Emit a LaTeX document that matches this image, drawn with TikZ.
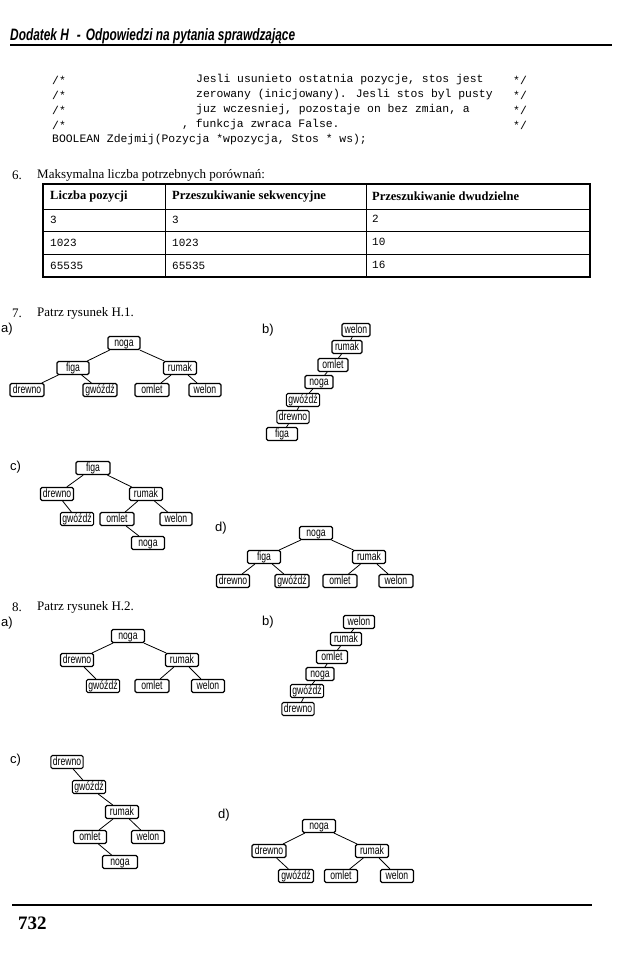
\documentclass[tikz,border=0pt]{standalone}
\usepackage{fontspec}
\setmainfont{Liberation Serif}
\newfontfamily\hdrfont[FakeStretch=0.72]{Liberation Sans}
\newfontfamily\treefont[FakeStretch=0.72]{Liberation Sans}
\newfontfamily\codefont{Liberation Mono}
\newfontfamily\labfont{Liberation Sans}
\tikzset{
 tn/.style={draw=black, line width=1.1pt, rounded corners=1.5pt, inner xsep=2pt, inner ysep=0pt,
   minimum height=13pt, font=\treefont\fontsize{12}{12}\selectfont, text height=8.4pt, text depth=2.4pt},
 ed/.style={line width=0.8pt},
 lab/.style={anchor=west, font=\labfont\fontsize{13}{13}\selectfont, inner sep=0},
 body/.style={anchor=west, font=\fontsize{13}{15}\selectfont, inner sep=0},
 code/.style={anchor=west, font=\codefont\fontsize{11.4}{12}\selectfont, inner sep=0},
 thh/.style={anchor=west, font=\bfseries\fontsize{12.5}{14}\selectfont, inner sep=0},
 tc/.style={anchor=west, font=\codefont\fontsize{11}{12}\selectfont, inner sep=0},
}
\begin{document}
\begin{tikzpicture}[x=1pt,y=-1pt]
\useasboundingbox (0,0) rectangle (639,978);
\fill[white] (0,0) rectangle (639,978);
% header
\node[anchor=west, inner sep=0, font=\hdrfont\bfseries\itshape\fontsize{16.5}{16.5}\selectfont] (hdr) at (10,36) {Dodatek H\hspace{8pt}-\hspace{5pt}Odpowiedzi na pytania sprawdzające};
\coordinate (hrl) at (10,45); \coordinate (hrr) at (612,45);
\draw[line width=1.6pt] (hrl) -- (hrr);
% code
\node[code] (c1a) at (52,80) {/*};
\node[code] (c1b) at (196,80) {Jesli usunieto ostatnia pozycje, stos jest};
\node[code] (c1c) at (513,80) {*/};
\node[code] (c2a) at (52,95) {/*};
\node[code] (c2b) at (196,95) {zerowany (inicjowany). Jesli stos byl pusty};
\node[code] (c2c) at (513,95) {*/};
\node[code] (c3a) at (52,110) {/*};
\node[code] (c3b) at (196,110) {juz wczesniej, pozostaje on bez zmian, a};
\node[code] (c3c) at (513,110) {*/};
\node[code] (c4a) at (52,125) {/*};
\node[code] (c4b) at (182,125) {, funkcja zwraca False.};
\node[code] (c4c) at (513,125) {*/};
\node[code] (c5) at (52,140) {BOOLEAN Zdejmij(Pozycja *wpozycja, Stos * ws);};
% item 6
\node[body] (n6) at (12,175) {6.};
\node[body] (t6) at (37,175) {Maksymalna liczba potrzebnych porównań:};
% table
\draw[line width=1.3pt] (43,184) rectangle (590,277);
\draw[line width=1pt] (43,209) -- (590,209) (43,231) -- (590,231) (43,254) -- (590,254);
\draw[line width=1pt] (165,184) -- (165,277) (366,184) -- (366,277);
\node[thh] (h1) at (50,197) {Liczba pozycji};
\node[thh] (h2) at (172,197) {Przeszukiwanie sekwencyjne};
\node[thh] (h3) at (372,196) {Przeszukiwanie dwudzielne};
\node[tc] (r11) at (50,220) {3};
\node[tc] (r12) at (172,220) {3};
\node[tc] (r13) at (372,219) {2};
\node[tc] (r21) at (50,243) {1023};
\node[tc] (r22) at (172,243) {1023};
\node[tc] (r23) at (372,242) {10};
\node[tc] (r31) at (50,266) {65535};
\node[tc] (r32) at (172,266) {65535};
\node[tc] (r33) at (372,265) {16};
% item 7
\node[body] (n7) at (12,313) {7.};
\node[body] (t7) at (37,313) {Patrz rysunek H.1.};
\node[lab] (l7a) at (1,329) {a)};
\node[lab] (l7b) at (262,330) {b)};
\node[lab] (l7c) at (10,467) {c)};
\node[lab] (l7d) at (215,528) {d)};
% H.1 a
\node[tn,minimum width=32] (a1noga) at (124,343) {noga};
\node[tn,minimum width=32] (a1figa) at (73,368) {figa};
\node[tn,minimum width=33] (a1rumak) at (180,368) {rumak};
\node[tn,minimum width=34] (a1drewno) at (27,390) {drewno};
\node[tn,minimum width=34] (a1gwozdz) at (100,390) {gwóźdź};
\node[tn,minimum width=34] (a1omlet) at (152,390) {omlet};
\node[tn,minimum width=32] (a1welon) at (205,390) {welon};
\draw[ed] (a1noga) -- (a1figa); \draw[ed] (a1noga) -- (a1rumak);
\draw[ed] (a1figa) -- (a1drewno); \draw[ed] (a1figa) -- (a1gwozdz);
\draw[ed] (a1rumak) -- (a1omlet); \draw[ed] (a1rumak) -- (a1welon);
% H.1 b
\node[tn,minimum width=28] (b1welon) at (356,330) {welon};
\node[tn,minimum width=30] (b1rumak) at (347,347) {rumak};
\node[tn,minimum width=30] (b1omlet) at (333,365) {omlet};
\node[tn,minimum width=28] (b1noga) at (319,382) {noga};
\node[tn,minimum width=30] (b1gwozdz) at (303,400) {gwóźdź};
\node[tn,minimum width=31] (b1drewno) at (293,417) {drewno};
\node[tn,minimum width=31] (b1figa) at (282,434) {figa};
\draw[ed] (b1welon) -- (b1rumak); \draw[ed] (b1rumak) -- (b1omlet);
\draw[ed] (b1omlet) -- (b1noga); \draw[ed] (b1noga) -- (b1gwozdz);
\draw[ed] (b1gwozdz) -- (b1drewno); \draw[ed] (b1drewno) -- (b1figa);
% H.1 c
\node[tn,minimum width=34] (c1figa) at (93,468) {figa};
\node[tn,minimum width=33] (c1drewno) at (57,494) {drewno};
\node[tn,minimum width=33] (c1rumak) at (146,494) {rumak};
\node[tn,minimum width=33] (c1gwozdz) at (77,519) {gwóźdź};
\node[tn,minimum width=34] (c1omlet) at (117,519) {omlet};
\node[tn,minimum width=32] (c1welon) at (176,519) {welon};
\node[tn,minimum width=33] (c1noga) at (148,543) {noga};
\draw[ed] (c1figa) -- (c1drewno); \draw[ed] (c1figa) -- (c1rumak);
\draw[ed] (c1drewno) -- (c1gwozdz);
\draw[ed] (c1rumak) -- (c1omlet); \draw[ed] (c1rumak) -- (c1welon);
\draw[ed] (c1omlet) -- (c1noga);
% H.1 d
\node[tn,minimum width=33] (d1noga) at (316,533) {noga};
\node[tn,minimum width=33] (d1figa) at (264,557) {figa};
\node[tn,minimum width=33] (d1rumak) at (369,557) {rumak};
\node[tn,minimum width=33] (d1drewno) at (233,581) {drewno};
\node[tn,minimum width=34] (d1gwozdz) at (292,581) {gwóźdź};
\node[tn,minimum width=34] (d1omlet) at (340,581) {omlet};
\node[tn,minimum width=34] (d1welon) at (396,581) {welon};
\draw[ed] (d1noga) -- (d1figa); \draw[ed] (d1noga) -- (d1rumak);
\draw[ed] (d1figa) -- (d1drewno); \draw[ed] (d1figa) -- (d1gwozdz);
\draw[ed] (d1rumak) -- (d1omlet); \draw[ed] (d1rumak) -- (d1welon);
% item 8
\node[body] (n8) at (12,607) {8.};
\node[body] (t8) at (37,607) {Patrz rysunek H.2.};
\node[lab] (l8a) at (1,623) {a)};
\node[lab] (l8b) at (262,622) {b)};
\node[lab] (l8c) at (10,760) {c)};
\node[lab] (l8d) at (218,815) {d)};
% H.2 a
\node[tn,minimum width=33] (a2noga) at (128,636) {noga};
\node[tn,minimum width=33] (a2drewno) at (77,660) {drewno};
\node[tn,minimum width=33] (a2rumak) at (182,660) {rumak};
\node[tn,minimum width=33] (a2gwozdz) at (103,686) {gwóźdź};
\node[tn,minimum width=34] (a2omlet) at (152,686) {omlet};
\node[tn,minimum width=33] (a2welon) at (208,686) {welon};
\draw[ed] (a2noga) -- (a2drewno); \draw[ed] (a2noga) -- (a2rumak);
\draw[ed] (a2drewno) -- (a2gwozdz);
\draw[ed] (a2rumak) -- (a2omlet); \draw[ed] (a2rumak) -- (a2welon);
% H.2 b
\node[tn,minimum width=31] (b2welon) at (359,622) {welon};
\node[tn,minimum width=31] (b2rumak) at (346,639) {rumak};
\node[tn,minimum width=31] (b2omlet) at (332,657) {omlet};
\node[tn,minimum width=28] (b2noga) at (320,674) {noga};
\node[tn,minimum width=30] (b2gwozdz) at (307,691) {gwóźdź};
\node[tn,minimum width=31] (b2drewno) at (298,709) {drewno};
\draw[ed] (b2welon) -- (b2rumak); \draw[ed] (b2rumak) -- (b2omlet);
\draw[ed] (b2omlet) -- (b2noga); \draw[ed] (b2noga) -- (b2gwozdz);
\draw[ed] (b2gwozdz) -- (b2drewno);
% H.2 c
\node[tn,minimum width=32] (c2drewno) at (67,762) {drewno};
\node[tn,minimum width=33] (c2gwozdz) at (89,787) {gwóźdź};
\node[tn,minimum width=33] (c2rumak) at (122,812) {rumak};
\node[tn,minimum width=33] (c2omlet) at (90,837) {omlet};
\node[tn,minimum width=33] (c2welon) at (148,837) {welon};
\node[tn,minimum width=35] (c2noga) at (120,862) {noga};
\draw[ed] (c2drewno) -- (c2gwozdz); \draw[ed] (c2gwozdz) -- (c2rumak);
\draw[ed] (c2rumak) -- (c2omlet); \draw[ed] (c2rumak) -- (c2welon);
\draw[ed] (c2omlet) -- (c2noga);
% H.2 d
\node[tn,minimum width=33] (d2noga) at (319,826) {noga};
\node[tn,minimum width=34] (d2drewno) at (269,851) {drewno};
\node[tn,minimum width=33] (d2rumak) at (372,851) {rumak};
\node[tn,minimum width=35] (d2gwozdz) at (296,876) {gwóźdź};
\node[tn,minimum width=33] (d2omlet) at (341,876) {omlet};
\node[tn,minimum width=33] (d2welon) at (397,876) {welon};
\draw[ed] (d2noga) -- (d2drewno); \draw[ed] (d2noga) -- (d2rumak);
\draw[ed] (d2drewno) -- (d2gwozdz);
\draw[ed] (d2rumak) -- (d2omlet); \draw[ed] (d2rumak) -- (d2welon);
% footer
\coordinate (frl) at (12,905); \coordinate (frr) at (592,905);
\draw[line width=1.6pt] (frl) -- (frr);
\node[anchor=west, inner sep=0, font=\bfseries\fontsize{19}{19}\selectfont] (pg) at (18,923) {732};
\end{tikzpicture}
\end{document}
